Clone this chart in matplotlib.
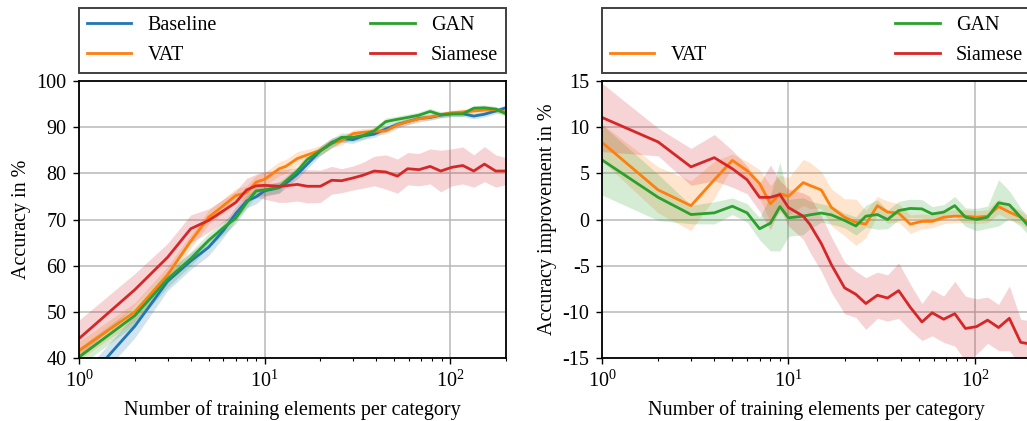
import numpy as np
import matplotlib
matplotlib.use("Agg")
import matplotlib.pyplot as plt
from matplotlib.lines import Line2D

plt.rcParams['font.family'] = 'Liberation Serif'
plt.rcParams['mathtext.fontset'] = 'custom'
plt.rcParams['mathtext.rm'] = 'Liberation Serif'
plt.rcParams['mathtext.it'] = 'Liberation Serif:italic'
plt.rcParams['axes.unicode_minus'] = False
plt.rcParams['font.size'] = 14.5

# training elements per category
n_train = [1, 2, 3, 4, 5, 6, 7, 8, 9, 10, 12, 13, 15, 17, 20, 23, 26, 30, 34, 39,
           45, 52, 59, 68, 78, 89, 102, 117, 134, 153, 176, 200]

# accuracy (%) and std
acc_baseline = [33.3, 46.9, 56.6, 61.0, 64.0, 67.6, 71.3, 74.0, 74.9, 76.2,
                76.9, 77.8, 79.8, 82.0, 84.9, 86.7, 87.5, 87.3, 88.1, 88.5,
                89.6, 90.6, 91.2, 91.9, 92.1, 92.6, 92.9, 92.9, 92.4, 92.8, 93.5, 94.2]
acc_vat = [41.6, 50.0, 58.0, 65.3, 70.5, 73.0, 75.2, 75.8, 78.1, 78.7,
           81.0, 81.5, 83.2, 84.0, 85.0, 86.5, 87.1, 88.6, 88.9, 89.1,
           89.2, 90.5, 91.2, 91.8, 92.2, 92.7, 93.1, 93.3, 93.5, 93.7, 93.8, 93.2]
acc_gan = [40.2, 49.2, 57.1, 61.5, 65.5, 68.2, 70.3, 73.6, 76.2, 76.4,
           77.0, 78.3, 80.5, 83.0, 84.9, 86.5, 87.8, 87.8, 88.2, 89.2,
           91.2, 91.7, 92.1, 92.6, 93.4, 92.7, 92.9, 92.9, 94.1, 94.2, 93.9, 92.9]
acc_siamese = [44.2, 54.8, 61.8, 68.0, 69.8, 71.9, 73.7, 76.4, 77.3, 77.4,
               77.2, 77.3, 77.6, 77.2, 77.2, 78.5, 78.4, 79.0, 79.6, 80.5,
               80.3, 79.4, 81.0, 80.8, 81.5, 80.5, 81.3, 81.7, 80.5, 82.0, 80.5, 80.5]

std_baseline = [2.5, 2.5, 2.0, 1.8, 1.8, 1.5, 1.5, 1.5, 1.5, 1.2, 1.2, 1.0, 1.0, 1.0, 1.0, 1.0,
                0.8, 0.8, 0.8, 0.7, 0.7, 0.7, 0.7, 0.6, 0.6, 0.6, 0.6, 0.6, 0.6, 0.6, 0.6, 0.6]
std_vat = [2.0, 2.0, 1.8, 1.5, 1.5, 1.5, 1.5, 1.5, 1.5, 1.5, 1.5, 1.5, 1.5, 1.2, 1.0, 1.0,
           1.0, 0.8, 0.8, 0.8, 0.7, 0.7, 0.7, 0.7, 0.6, 0.6, 0.6, 0.6, 0.6, 0.6, 0.6, 0.6]
std_gan = [2.0, 2.0, 1.8, 1.5, 1.5, 1.5, 1.2, 1.2, 1.2, 1.2, 1.2, 1.0, 1.0, 1.0, 1.0, 1.0,
           1.0, 0.8, 0.8, 0.8, 0.8, 0.7, 0.7, 0.7, 0.7, 0.6, 0.6, 0.6, 0.6, 0.6, 0.6, 0.6]
std_siamese = [4.0, 3.5, 3.0, 3.0, 2.5, 2.5, 2.5, 2.5, 2.5, 3.0, 3.5, 3.6, 3.6, 3.6, 3.5, 3.0,
               2.6, 2.6, 2.8, 3.2, 3.7, 3.7, 3.5, 3.5, 3.8, 4.5, 4.0, 4.0, 3.5, 3.8, 3.5, 2.9]

# improvement over baseline (%) and std
imp_vat = [8.35, 3.2, 1.5, 4.3, 6.4, 5.3, 3.9, 1.7, 2.8, 2.5,
           4.0, 3.7, 3.2, 1.3, 0.25, -0.3, -0.5, 1.5, 0.8, 0.7,
           -0.5, -0.2, -0.2, 0.25, 0.36, 0.36, 0.25, 0.36, 1.4, 0.8, 0.25, -0.6]
imp_gan = [6.45, 2.4, 0.54, 0.72, 1.44, 0.72, -1.0, -0.4, 1.4, 0.18,
           0.36, 0.5, 0.7, 0.5, -0.1, -0.7, 0.36, 0.54, 0.0, 0.97,
           1.2, 1.15, 0.6, 0.8, 1.5, 0.25, 0.0, 0.25, 1.8, 1.6, 0.25, -1.0]
imp_siamese = [11.05, 8.4, 5.7, 6.7, 5.5, 4.3, 2.4, 2.4, 2.7, 1.3,
               0.36, -0.5, -2.6, -4.9, -7.4, -8.1, -9.1, -8.2, -8.5, -7.7,
               -9.5, -11.1, -10.1, -10.8, -10.2, -11.8, -11.6, -10.9, -11.7, -10.7, -13.3, -13.5]

imp_std_vat = [2.0, 2.5, 2.7, 2.0, 0.7, 1.0, 1.5, 2.0, 2.0, 2.0, 2.5, 2.5, 2.0, 2.0, 2.0, 2.5,
               1.5, 1.0, 1.2, 1.0, 1.0, 0.8, 0.7, 0.7, 0.7, 0.7, 0.7, 0.7, 0.8, 0.8, 0.7, 0.7]
imp_std_gan = [3.8, 2.5, 1.0, 1.2, 0.9, 1.0, 1.2, 3.0, 4.8, 2.0, 2.0, 1.5, 1.0, 1.0, 0.8, 1.0,
               1.2, 1.6, 1.0, 1.0, 1.0, 1.0, 0.8, 0.8, 1.0, 1.0, 1.2, 1.2, 2.5, 1.5, 1.0, 1.0]
imp_std_siamese = [3.7, 1.5, 2.0, 2.5, 2.0, 1.5, 1.5, 3.5, 1.5, 2.0, 2.5, 3.0, 3.0, 3.0, 2.8, 2.5,
                   2.8, 2.5, 2.5, 3.0, 2.5, 2.0, 2.5, 2.5, 3.5, 3.5, 3.0, 2.5, 2.5, 3.5, 2.5, 2.5]

C_BASE, C_VAT, C_GAN, C_SIAM = '#1f77b4', '#ff7f0e', '#2ca02c', '#d62728'


def band(ax, x, mean, std, color, label):
    mean = np.asarray(mean)
    std = np.asarray(std)
    ax.fill_between(x, mean - std, mean + std, color=color, alpha=0.2, lw=0)
    ax.plot(x, mean, color=color, lw=2.0, label=label)


def style(ax):
    ax.set_xscale('log')
    ax.set_xlim(1, 200)
    ax.grid(True, which='major', color='#b8b8b8', lw=1.1)
    ax.set_axisbelow(True)
    ax.tick_params(which='major', direction='out', length=4, width=1.0, pad=5)
    ax.tick_params(which='minor', direction='out', length=2.5, width=0.8)
    for s in ax.spines.values():
        s.set_linewidth(1.3)
        s.set_color('black')
    ax.set_xlabel('Number of training elements per category', labelpad=6)


fig = plt.figure(figsize=(10.27, 4.21), dpi=100)
ax1 = fig.add_axes([0.0769, 0.1496, 0.4158, 0.658])
ax2 = fig.add_axes([0.5862, 0.1496, 0.4177, 0.658])

band(ax1, n_train, acc_baseline, std_baseline, C_BASE, 'Baseline')
band(ax1, n_train, acc_vat, std_vat, C_VAT, 'VAT')
band(ax1, n_train, acc_gan, std_gan, C_GAN, 'GAN')
band(ax1, n_train, acc_siamese, std_siamese, C_SIAM, 'Siamese')
style(ax1)
ax1.set_ylim(40, 100)
ax1.set_yticks(range(40, 101, 10))
ax1.set_ylabel('Accuracy in %')

band(ax2, n_train, imp_vat, imp_std_vat, C_VAT, 'VAT')
band(ax2, n_train, imp_gan, imp_std_gan, C_GAN, 'GAN')
band(ax2, n_train, imp_siamese, imp_std_siamese, C_SIAM, 'Siamese')
style(ax2)
ax2.set_ylim(-15, 15)
ax2.set_yticks(range(-15, 16, 5))
ax2.set_ylabel('Accuracy improvement in %')

leg_kw = dict(loc='lower left', bbox_to_anchor=(0, 1.03, 1, 0.2), mode='expand',
              ncol=2, borderaxespad=0, fancybox=False, framealpha=1,
              edgecolor='0.25', handlelength=2.2, labelspacing=0.5, fontsize=14.5)

h1, l1 = ax1.get_legend_handles_labels()
lg1 = ax1.legend(h1, l1, **leg_kw)
lg1.get_frame().set_linewidth(1.4)

h2, l2 = ax2.get_legend_handles_labels()
blank = Line2D([], [], color='none')
lg2 = ax2.legend([blank] + h2, [''] + l2, **leg_kw)
lg2.get_frame().set_linewidth(1.4)

fig.savefig('out.png', dpi=100)
